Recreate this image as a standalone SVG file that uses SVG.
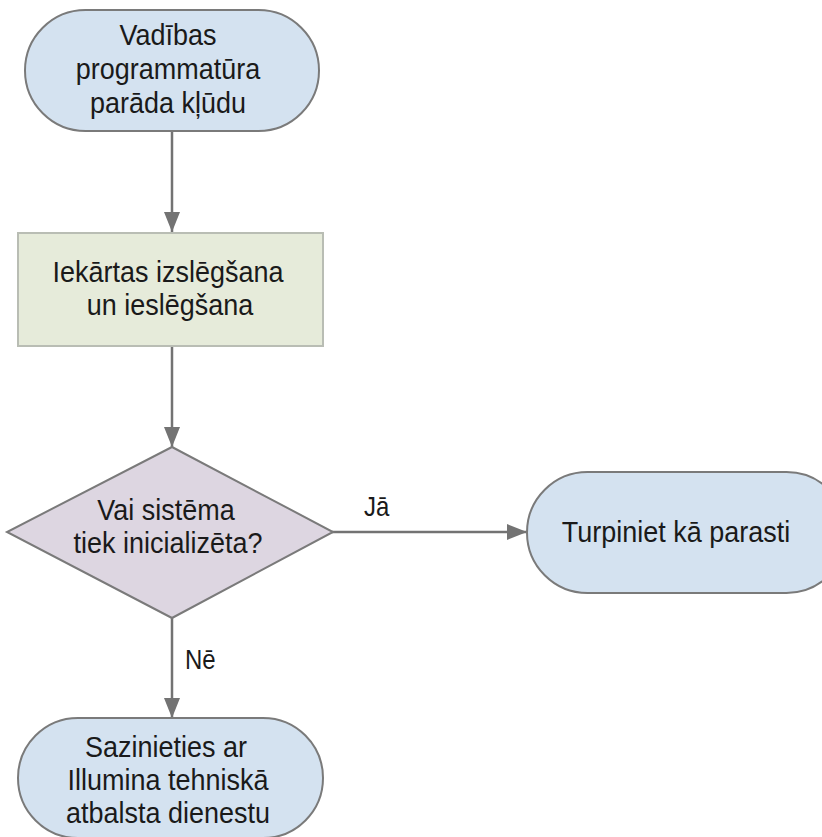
<svg xmlns="http://www.w3.org/2000/svg" width="822" height="837" viewBox="0 0 822 837">
<style>
  .term { fill: #d4e2f0; stroke: #7a7a7a; stroke-width: 2; }
  .proc { fill: #e6ebda; stroke: #b9bdb4; stroke-width: 2; }
  .dec { fill: #ddd6e1; stroke: #7a7a7a; stroke-width: 2; }
  .t { font-family: "Liberation Sans", Arial, sans-serif; font-size: 27px; fill: #1a1a1a; text-anchor: middle; }
  .lbl { font-family: "Liberation Sans", Arial, sans-serif; font-size: 24px; fill: #1a1a1a; }
  .conn { stroke: #737373; stroke-width: 2.5; fill: none; }
</style>
<defs>
  <marker id="ah" viewBox="0 0 20 16" refX="20" refY="8" markerWidth="20" markerHeight="16" orient="auto" markerUnits="userSpaceOnUse">
    <path d="M0,0 L20,8 L0,16 Z" fill="#737373"/>
  </marker>
</defs>
<rect width="822" height="837" fill="#ffffff"/>
<g id="connectors">
  <line class="conn" x1="172" y1="131" x2="172" y2="232" marker-end="url(#ah)"/>
  <line class="conn" x1="172" y1="346" x2="172" y2="447" marker-end="url(#ah)"/>
  <line class="conn" x1="332" y1="532" x2="527" y2="532" marker-end="url(#ah)"/>
  <line class="conn" x1="172" y1="618" x2="172" y2="718" marker-end="url(#ah)"/>
  <text class="lbl" transform="translate(364,516) scale(1,1.12)">Jā</text>
  <text class="lbl" transform="translate(185,669) scale(1,1.12)">Nē</text>
</g>
<g id="start">
  <rect class="term" x="25" y="10" width="294" height="121" rx="60.5" ry="60.5"/>
  <text class="t" transform="translate(168,45) scale(1,1.12)">Vadības</text>
  <text class="t" transform="translate(168,79) scale(1,1.12)">programmatūra</text>
  <text class="t" transform="translate(168,113) scale(1,1.12)">parāda kļūdu</text>
</g>
<g id="restart">
  <rect class="proc" x="18" y="233" width="305" height="113"/>
  <text class="t" transform="translate(168,282) scale(1,1.12)">Iekārtas izslēgšana</text>
  <text class="t" transform="translate(170,315) scale(1,1.12)">un ieslēgšana</text>
</g>
<g id="decision">
  <polygon class="dec" points="172,447 333,532 172,618 7,532"/>
  <text class="t" transform="translate(166,520) scale(1,1.12)">Vai sistēma</text>
  <text class="t" transform="translate(168,553) scale(1,1.12)">tiek inicializēta?</text>
</g>
<g id="continue">
  <rect class="term" x="527" y="472" width="320" height="121" rx="60.5" ry="60.5"/>
  <text class="t" transform="translate(676,542) scale(1,1.12)">Turpiniet kā parasti</text>
</g>
<g id="contact">
  <rect class="term" x="18" y="718" width="305" height="120" rx="60" ry="60"/>
  <text class="t" transform="translate(166,757) scale(1,1.12)">Sazinieties ar</text>
  <text class="t" transform="translate(168,790) scale(1,1.12)">Illumina tehniskā</text>
  <text class="t" transform="translate(168,823) scale(1,1.12)">atbalsta dienestu</text>
</g>
</svg>
